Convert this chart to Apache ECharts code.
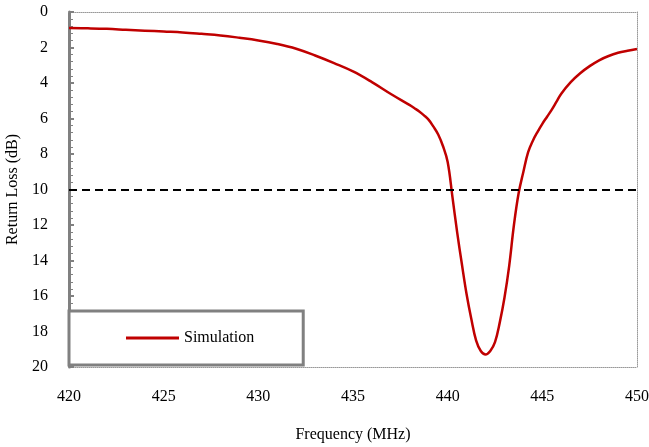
<!DOCTYPE html>
<html>
<head>
<meta charset="utf-8">
<script src="https://cdn.jsdelivr.net/npm/echarts@6/dist/echarts.min.js"></script>
<style>
  html, body { margin: 0; padding: 0; background: #fff; }
  #main { width: 649px; height: 447px; }
</style>
</head>
<body>
<div id="main"></div>
<script>
// simulated return loss
const freq = [420, 421, 422, 423, 424, 425, 426, 427, 428, 429, 430, 431, 432, 433, 434, 435,
  436, 437, 438, 438.25, 438.5, 438.75, 439, 439.25, 439.5, 439.75, 440, 440.25, 440.5,
  440.75, 441, 441.25, 441.5, 441.75, 442, 442.25, 442.5, 442.75, 443, 443.25, 443.5,
  443.75, 444, 444.25, 444.5, 444.75, 445, 445.25, 445.5, 445.75, 446, 446.5, 447, 447.5,
  448, 448.5, 449, 449.5, 450];
const returnLoss = [0.9, 0.92, 0.95, 1.0, 1.05, 1.1, 1.15, 1.23, 1.32, 1.45, 1.6, 1.8, 2.07, 2.45, 2.88, 3.35,
  3.95, 4.62, 5.25, 5.42, 5.6, 5.82, 6.08, 6.46, 6.9, 7.55, 8.45, 10.4, 12.4,
  14.2, 15.9, 17.3, 18.5, 19.1, 19.3, 19.1, 18.6, 17.5, 16.1, 14.3, 12.0,
  10.2, 9.0, 7.9, 7.25, 6.75, 6.3, 5.9, 5.5, 5.05, 4.6, 3.95, 3.45, 3.05,
  2.72, 2.48, 2.3, 2.18, 2.08];
const threshold = 10;
const xTicks = [420, 450, 5];
const yTicks = [0, 20, 2];

const font = '"Liberation Serif", "Times New Roman", serif';
const grey = '#808080';

const chart = echarts.init(document.getElementById('main'));

chart.setOption({
  animation: false,
  textStyle: { fontFamily: font },
  grid: { left: 69, right: 12, top: 12, bottom: 80, outerBoundsMode: 'none' },
  legend: {
    left: 69,
    top: 311,
    padding: [19, 49, 19, 57],
    borderColor: grey,
    borderWidth: 3,
    backgroundColor: '#fff',
    itemWidth: 53,
    itemHeight: 3,
    itemGap: 5,
    textStyle: { fontFamily: font, fontSize: 16, color: '#000' },
    data: [{ name: 'Simulation', icon: 'rect' }]
  },
  xAxis: [{
    type: 'value',
    min: xTicks[0], max: xTicks[1], interval: xTicks[2],
    name: 'Frequency (MHz)',
    nameLocation: 'middle',
    nameGap: 60,
    nameTextStyle: { fontFamily: font, fontSize: 16, color: '#000' },
    axisLine: { show: true, onZero: false, lineStyle: { color: '#999', width: 1, type: 'dotted' } },
    axisTick: { show: false },
    axisLabel: { margin: 22, fontFamily: font, fontSize: 16, color: '#000' },
    splitLine: { show: false }
  }, {
    type: 'value', position: 'top',
    min: xTicks[0], max: xTicks[1],
    axisLine: { show: true, lineStyle: { color: '#999', width: 1, type: 'dotted' } },
    axisTick: { show: false }, axisLabel: { show: false }, splitLine: { show: false }
  }],
  yAxis: [{
    type: 'value',
    inverse: true,
    min: yTicks[0], max: yTicks[1], interval: yTicks[2],
    name: 'Return Loss (dB)',
    nameLocation: 'middle',
    nameGap: 44,
    nameTextStyle: { fontFamily: font, fontSize: 16, color: '#000' },
    axisLine: { show: true, lineStyle: { color: grey, width: 3 } },
    axisTick: { show: true, inside: true, length: 5, lineStyle: { color: grey, width: 2 } },
    minorTick: { show: true, splitNumber: 5, length: 4, lineStyle: { color: grey, width: 1 } },
    axisLabel: { margin: 21, fontFamily: font, fontSize: 16, color: '#000' },
    splitLine: { show: false }
  }, {
    type: 'value', position: 'right', inverse: true,
    min: yTicks[0], max: yTicks[1],
    axisLine: { show: true, lineStyle: { color: '#999', width: 1, type: 'dotted' } },
    axisTick: { show: false }, axisLabel: { show: false }, splitLine: { show: false }
  }],
  series: [{
    name: 'Simulation',
    type: 'line',
    data: freq.map((f, i) => [f, returnLoss[i]]),
    smooth: 0.4,
    showSymbol: false,
    symbol: 'none',
    color: '#C00000',
    lineStyle: { color: '#C00000', width: 2.5 },
    markLine: {
      silent: true,
      symbol: 'none',
      label: { show: false },
      lineStyle: { color: '#000', width: 2, type: [8, 5] },
      data: [{ yAxis: threshold }]
    }
  }]
});
</script>
</body>
</html>
